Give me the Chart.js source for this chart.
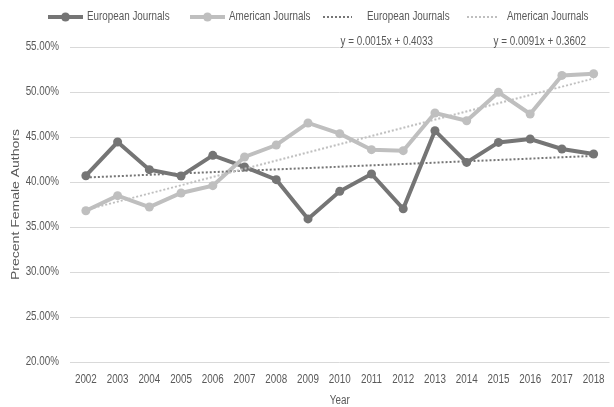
<!DOCTYPE html>
<html><head><meta charset="utf-8">
<script src="https://cdn.jsdelivr.net/npm/chart.js@4.4.0/dist/chart.umd.min.js"></script>
<style>html,body{margin:0;padding:0;background:#fff;}</style>
</head><body>
<canvas id="c" width="614" height="407" style="display:block;width:614px;height:407px"></canvas>
<script>
const years = ['2002','2003','2004','2005','2006','2007','2008','2009','2010','2011','2012','2013','2014','2015','2016','2017','2018'];
const european = [40.70,44.44,41.37,40.67,42.96,41.67,40.26,35.90,38.96,40.89,37.03,45.70,42.18,44.40,44.78,43.67,43.11];
const american = [36.81,38.48,37.22,38.78,39.59,42.78,44.11,46.56,45.37,43.59,43.48,47.67,46.81,49.96,47.56,51.84,52.03];
const trendEuropeanEnds = [40.5, 42.9];
const trendAmericanEnds = [36.9, 51.5];
const yTickValues = [20,25,30,35,40,45,50,55];
const seriesLabels = ['European Journals','American Journals','European Journals','American Journals'];
const equations = ['y = 0.0015x + 0.4033','y = 0.0091x + 0.3602'];
const xTitle = 'Year';
const yTitle = 'Precent Female Authors';

const FONT = "'Liberation Sans',Arial,sans-serif";
const SQ = 0.82;
const DARK = '#757575', LIGHT = '#bfbfbf', TEXT = '#595959';

function trendData(ends){
  return years.map((y,i)=> i===0 ? ends[0] : (i===years.length-1 ? ends[1] : null));
}

function txt(ctx, s, x, y, align, size){
  ctx.save();
  ctx.font = size + 'px ' + FONT;
  ctx.fillStyle = TEXT;
  ctx.textBaseline = 'middle';
  ctx.textAlign = align;
  ctx.translate(x, y);
  ctx.scale(SQ, 1);
  ctx.fillText(s, 0, 0);
  ctx.restore();
}

const textPlugin = {
  id:'narrowText',
  afterDraw(chart){
    const ctx = chart.ctx;
    const xs = chart.scales.x, ys = chart.scales.y, area = chart.chartArea;
    // y tick labels
    yTickValues.forEach(v=>{
      txt(ctx, v.toFixed(2)+'%', area.left-11, ys.getPixelForValue(v), 'right', 12);
    });
    // x tick labels
    years.forEach((yr,i)=>{
      txt(ctx, yr, xs.getPixelForTick(i), area.bottom+18, 'center', 12);
    });
    // x title
    txt(ctx, xTitle, (area.left+area.right)/2, 401, 'center', 12);
    // y title (rotated, squeezed in its height)
    ctx.save();
    ctx.font = '14px ' + FONT;
    ctx.fillStyle = TEXT;
    ctx.textAlign = 'center';
    ctx.textBaseline = 'middle';
    ctx.translate(16, (area.top+area.bottom)/2);
    ctx.rotate(-Math.PI/2);
    ctx.scale(1, SQ);
    ctx.fillText(yTitle, 0, 0);
    ctx.restore();

    // legend
    const ds = chart.data.datasets;
    const iconStart = [48,190,323,467];
    const iconLen = [35,35,29,32];
    const textX = [87,229,367,507];
    const y = 17;
    ds.forEach((d,i)=>{
      ctx.save();
      ctx.strokeStyle = d.borderColor;
      const dashed = d.borderDash && d.borderDash.length;
      ctx.lineWidth = dashed ? 2 : 4;
      if (dashed) ctx.setLineDash(d.borderDash);
      ctx.beginPath();
      ctx.moveTo(iconStart[i], y);
      ctx.lineTo(iconStart[i]+iconLen[i], y);
      ctx.stroke();
      ctx.setLineDash([]);
      if (d.pointRadius > 0){
        ctx.fillStyle = d.borderColor;
        ctx.beginPath();
        ctx.arc(iconStart[i]+iconLen[i]/2, y, 4.5, 0, Math.PI*2);
        ctx.fill();
      }
      ctx.restore();
      txt(ctx, d.label, textX[i], y, 'left', 12);
    });
    txt(ctx, equations[0], 433, 42, 'right', 12);
    txt(ctx, equations[1], 586, 42, 'right', 12);
  }
};

new Chart(document.getElementById('c'), {
  type:'line',
  data:{
    labels: years,
    datasets:[
      {label:seriesLabels[0], data:european, borderColor:DARK, backgroundColor:DARK, borderWidth:4, pointRadius:4.5, pointHoverRadius:4.5, pointBackgroundColor:DARK, pointBorderWidth:0, tension:0, order:3},
      {label:seriesLabels[1], data:american, borderColor:LIGHT, backgroundColor:LIGHT, borderWidth:4, pointRadius:4.5, pointHoverRadius:4.5, pointBackgroundColor:LIGHT, pointBorderWidth:0, tension:0, order:2},
      {label:seriesLabels[2], data:trendData(trendEuropeanEnds), borderColor:DARK, borderWidth:2, borderDash:[2,2], pointRadius:0, spanGaps:true, order:1},
      {label:seriesLabels[3], data:trendData(trendAmericanEnds), borderColor:LIGHT, borderWidth:2, borderDash:[2,2], pointRadius:0, spanGaps:true, order:0}
    ]
  },
  options:{
    responsive:false,
    animation:false,
    devicePixelRatio:1,
    layout:{padding:{top:47,right:0,left:0,bottom:0}},
    plugins:{legend:{display:false}, tooltip:{enabled:false}},
    scales:{
      x:{
        offset:true,
        grid:{display:false},
        border:{display:false},
        ticks:{display:false},
        afterFit(s){ s.height = 45; }
      },
      y:{
        min:20, max:55,
        afterBuildTicks(s){ s.ticks = yTickValues.map(v=>({value:v})); },
        grid:{color:'#d9d9d9', lineWidth:1, drawTicks:false},
        border:{display:false},
        ticks:{display:false},
        afterFit(s){ s.width = 70; }
      }
    }
  },
  plugins:[textPlugin]
});
</script>
</body></html>
